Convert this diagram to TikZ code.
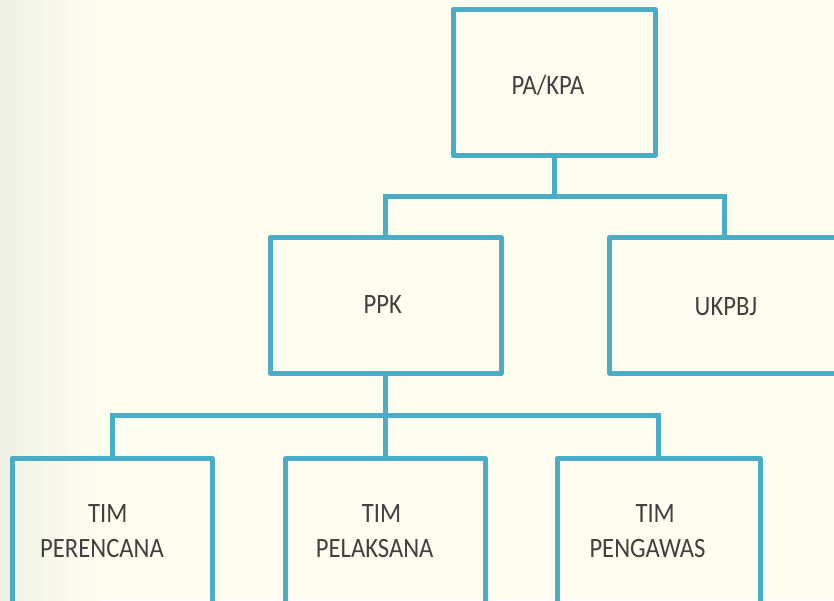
\documentclass[tikz,border=0pt]{standalone}
\usepackage{fontspec}
\setmainfont{Carlito}[FakeStretch=0.88]
\definecolor{boxblue}{HTML}{4BACC6}
\definecolor{txtgray}{HTML}{404040}
\definecolor{bgcream}{HTML}{FDFEF0}
\definecolor{bgedge}{HTML}{F0F1E6}
\begin{document}
\begin{tikzpicture}[x=1pt,y=-1pt,
  orgbox/.style={draw=boxblue, line width=5pt, rectangle, outer sep=0pt, inner sep=0pt, line join=round},
  conn/.style={draw=boxblue, line width=5pt},
  lbl/.style={text=txtgray, inner sep=0pt, font=\fontsize{28}{35.6}\selectfont}]
\useasboundingbox (0,0) rectangle (834,600);
\clip (0,0) rectangle (834,600);
\fill[bgcream] (0,0) rectangle (834,600);
\shade[left color=bgedge, right color=bgcream] (0,0) rectangle (100,600);

% boxes
\node[orgbox, minimum width=202pt, minimum height=146pt] (pa) at (554,82.5) {};
\node[orgbox, minimum width=231pt, minimum height=135.5pt] (ppk) at (385.5,305.25) {};
\node[orgbox, minimum width=230pt, minimum height=135.5pt] (ukpbj) at (724.5,305.25) {};
\node[orgbox, minimum width=200pt, minimum height=183pt] (per) at (112,550) {};
\node[orgbox, minimum width=200pt, minimum height=183pt] (pel) at (385.5,550) {};
\node[orgbox, minimum width=203pt, minimum height=183pt] (peng) at (658.5,550) {};

% junctions
\coordinate (j1) at (553,196.5);
\coordinate (j2) at (385.5,415);

% connectors
\draw[conn] (pa.south) -- (pa.south |- j1);
\draw[conn] (ppk.north) -- (ppk.north |- j1) -- (ukpbj.north |- j1) -- (ukpbj.north);
\draw[conn] (ppk.south) -- (j2);
\draw[conn] (per.north) -- (per.north |- j2) -- (peng.north |- j2) -- (peng.north);
\draw[conn] (j2) -- (pel.north);

% labels
\node[lbl, anchor=base] (tpa) at (548,94.3) {PA/KPA};
\node[lbl, anchor=base] (tppk) at (382.8,313.3) {PPK};
\node[lbl, anchor=base] (tukpbj) at (726,315) {UKPBJ};
\node[lbl, anchor=base west] (tper) at (40,522) {\begin{tabular}[t]{@{}l@{}}\hspace*{48pt}TIM\\PERENCANA\end{tabular}};
\node[lbl, anchor=base west] (tpel) at (315.7,522) {\begin{tabular}[t]{@{}l@{}}\hspace*{46pt}TIM\\PELAKSANA\end{tabular}};
\node[lbl, anchor=base west] (tpeng) at (589.3,522) {\begin{tabular}[t]{@{}l@{}}\hspace*{46pt}TIM\\PENGAWAS\end{tabular}};
\end{tikzpicture}
\end{document}
